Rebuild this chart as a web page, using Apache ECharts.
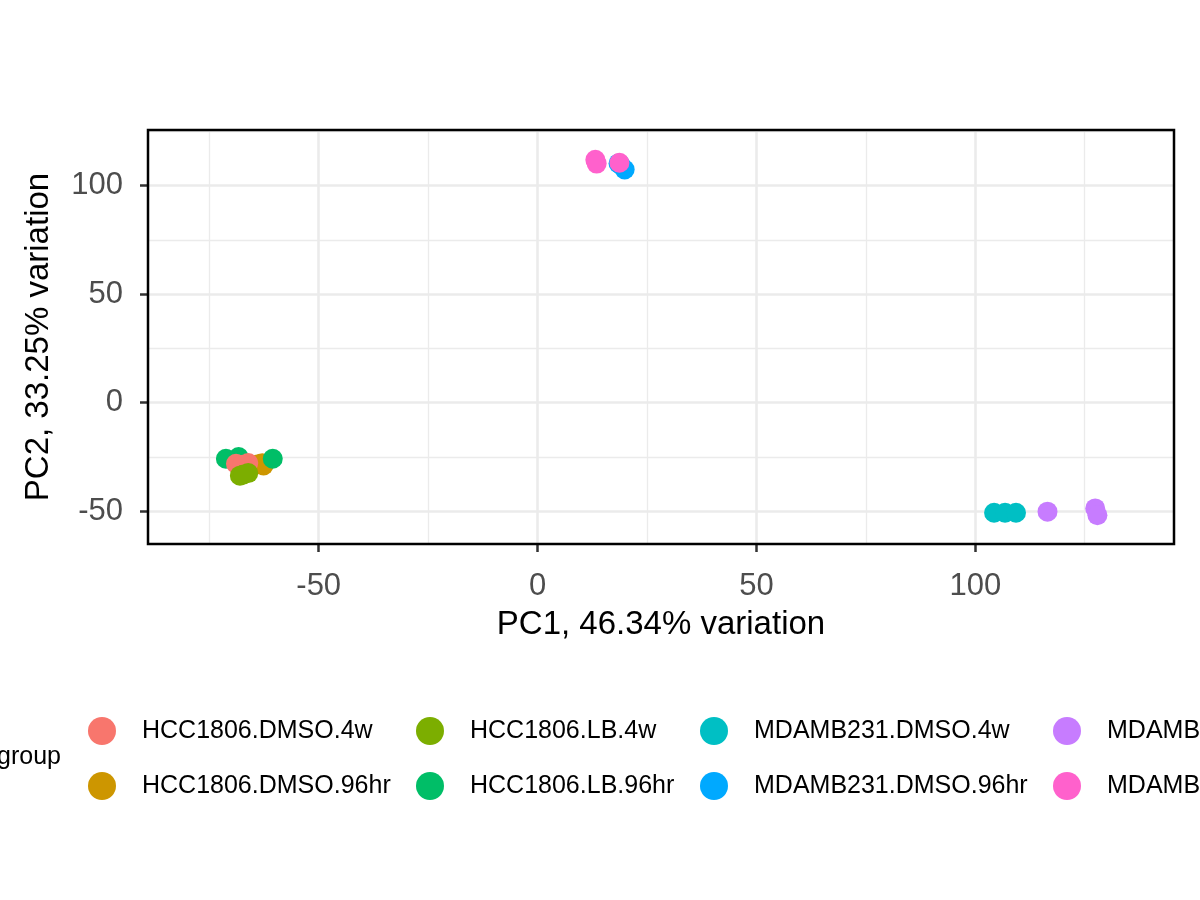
<!DOCTYPE html>
<html>
<head>
<meta charset="utf-8">
<script src="https://cdn.jsdelivr.net/npm/echarts@6/dist/echarts.min.js"></script>
<style>
  html, body { margin: 0; padding: 0; background: #fff; }
  #chart { width: 1200px; height: 900px; }
</style>
</head>
<body>
<div id="chart"></div>
<script>
// groups, in legend order
const groups = [
  'HCC1806.DMSO.4w', 'HCC1806.DMSO.96hr',
  'HCC1806.LB.4w', 'HCC1806.LB.96hr',
  'MDAMB231.DMSO.4w', 'MDAMB231.DMSO.96hr',
  'MDAMB231.LB.4w', 'MDAMB231.LB.96hr'
];
const colors = ['#F8766D', '#CD9600', '#7CAE00', '#00BE67', '#00BFC4', '#00A9FF', '#C77CFF', '#FF61CC'];

// PC1, PC2 per sample
const hccDmso4w   = [[-68.9, -28.2], [-66.1, -27.9], [-67.4, -28.6]];
const hccDmso96hr = [[-62.6, -29.0], [-63.8, -28.4], [-62.9, -28.0]];
const hccLb4w     = [[-68.0, -33.7], [-66.1, -32.5], [-67.2, -33.1]];
const hccLb96hr   = [[-71.2, -25.9], [-68.3, -25.1], [-60.5, -25.9]];
const mdaDmso4w   = [[104.3, -50.8], [106.8, -50.8], [109.3, -50.8]];
const mdaDmso96hr = [[19.9, 107.5], [18.9, 109.8], [18.5, 110.3]];
const mdaLb4w     = [[116.5, -50.3], [127.4, -48.8], [127.9, -51.9]];
const mdaLb96hr   = [[13.2, 112.0], [13.5, 110.2], [18.7, 110.6]];

const groupData = [hccDmso4w, hccDmso96hr, hccLb4w, hccLb96hr, mdaDmso4w, mdaDmso96hr, mdaLb4w, mdaLb96hr];
// plotting order (later on top)
const drawOrder = [1, 3, 5, 7, 0, 2, 4, 6];

const xTicks = [-50, 0, 50, 100];
const yTicks = [-50, 0, 50, 100];
const xMinor = [-75, -25, 25, 75, 125];
const yMinor = [-25, 25, 75, 125];

const xRange = [-89, 145.4];
const yRange = [-65.2, 125.7];

const legendCols = [[0, 1], [2, 3], [4, 5], [6, 7]];
const legendLefts = [88, 416, 700, 1053];

const chart = echarts.init(document.getElementById('chart'));

const gridMarks = {
  silent: true,
  z: 1,
  symbol: 'none',
  label: { show: false },
  emphasis: { disabled: true },
  data: [
    ...xMinor.map(v => ({ xAxis: v, lineStyle: { color: '#EBEBEB', width: 1.3, type: 'solid' } })),
    ...yMinor.map(v => ({ yAxis: v, lineStyle: { color: '#EBEBEB', width: 1.3, type: 'solid' } })),
    ...xTicks.map(v => ({ xAxis: v, lineStyle: { color: '#EBEBEB', width: 2.6, type: 'solid' } })),
    ...yTicks.map(v => ({ yAxis: v, lineStyle: { color: '#EBEBEB', width: 2.6, type: 'solid' } }))
  ]
};

const series = [{
  type: 'scatter',
  name: '_grid',
  data: [],
  z: 1,
  silent: true,
  markLine: gridMarks
}];
drawOrder.forEach(i => {
  series.push({
    type: 'scatter',
    name: groups[i],
    data: groupData[i],
    symbol: 'circle',
    symbolSize: 20,
    itemStyle: { color: colors[i], opacity: 1, borderWidth: 0 },
    z: 3
  });
});

const font = 'Liberation Sans, Arial, Helvetica, sans-serif';

chart.setOption({
  animation: false,
  backgroundColor: '#fff',
  color: colors,
  title: {
    text: 'group',
    left: -3,
    top: 745,
    padding: 0,
    textStyle: { fontFamily: font, fontSize: 25, fontWeight: 'normal', color: '#000' }
  },
  grid: {
    left: 148, right: 26, top: 130, bottom: 356,
    show: true, borderColor: '#000', borderWidth: 2.5,
    backgroundColor: 'transparent', z: 10
  },
  legend: legendCols.map((col, k) => ({
    orient: 'vertical',
    left: legendLefts[k],
    top: 717,
    padding: 0,
    itemWidth: 28,
    itemHeight: 28,
    itemGap: 27,
    icon: 'circle',
    selectedMode: false,
    data: col.map(i => groups[i]),
    textStyle: { fontFamily: font, fontSize: 25, color: '#000', padding: [0, 0, 0, 21] }
  })),
  xAxis: {
    type: 'value',
    min: xRange[0], max: xRange[1],
    name: 'PC1, 46.34% variation',
    nameLocation: 'middle',
    nameGap: 64,
    nameTextStyle: { fontFamily: font, fontSize: 33, color: '#000' },
    axisLine: { show: false, onZero: false },
    axisTick: { show: true, customValues: xTicks, length: 8, lineStyle: { color: '#333', width: 2.5 } },
    axisLabel: { customValues: xTicks, margin: 27, fontFamily: font, fontSize: 31, color: '#4D4D4D' },
    splitLine: { show: false }
  },
  yAxis: {
    type: 'value',
    min: yRange[0], max: yRange[1],
    name: 'PC2, 33.25% variation',
    nameLocation: 'middle',
    nameGap: 93,
    nameTextStyle: { fontFamily: font, fontSize: 33, color: '#000' },
    axisLine: { show: false, onZero: false },
    axisTick: { show: true, customValues: yTicks, length: 8, lineStyle: { color: '#333', width: 2.5 } },
    axisLabel: { customValues: yTicks, margin: 25, fontFamily: font, fontSize: 31, color: '#4D4D4D' },
    splitLine: { show: false }
  },
  series: series
});
</script>
</body>
</html>
